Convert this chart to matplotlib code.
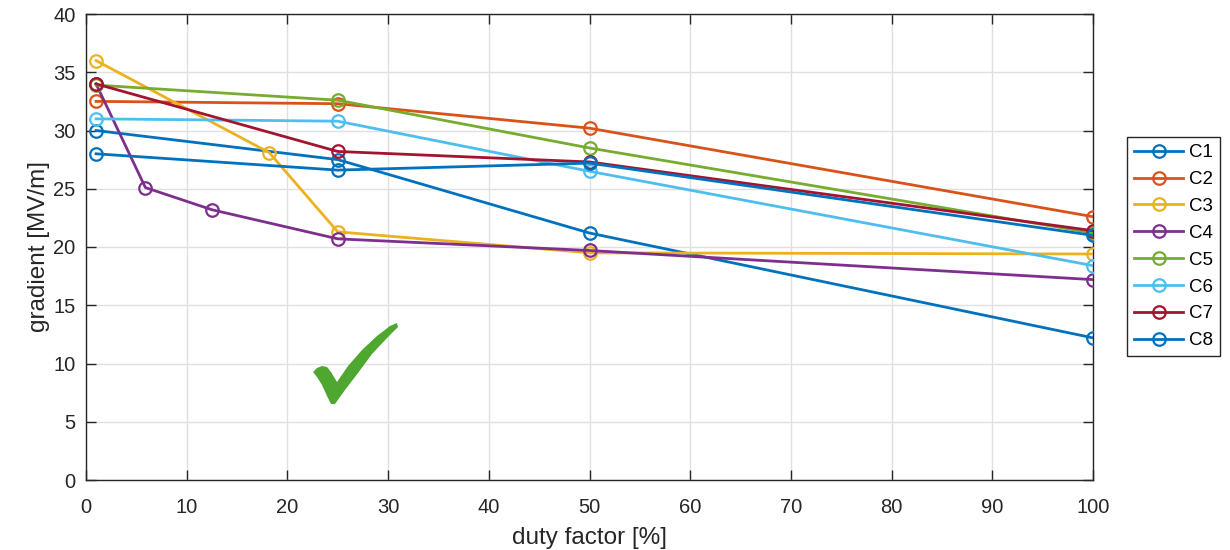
import matplotlib
matplotlib.use("Agg")
import matplotlib.pyplot as plt
from matplotlib.patches import Polygon

plt.rcParams['font.family'] = ['Liberation Sans', 'DejaVu Sans']

# duty factor [%] and accelerating gradient [MV/m] per cavity
c1_x = [1, 25, 50, 100]
c1_y = [30.0, 27.5, 21.2, 12.2]
c2_x = [1, 25, 50, 100]
c2_y = [32.5, 32.3, 30.2, 22.6]
c3_x = [1, 18.2, 25, 50, 100]
c3_y = [36.0, 28.1, 21.3, 19.5, 19.4]
c4_x = [1, 5.9, 12.5, 25, 50, 100]
c4_y = [34.0, 25.1, 23.2, 20.7, 19.7, 17.2]
c5_x = [1, 25, 50, 100]
c5_y = [33.9, 32.6, 28.5, 21.2]
c6_x = [1, 25, 50, 100]
c6_y = [31.0, 30.8, 26.5, 18.4]
c7_x = [1, 25, 50, 100]
c7_y = [34.0, 28.2, 27.3, 21.4]
c8_x = [1, 25, 50, 100]
c8_y = [28.0, 26.6, 27.2, 21.0]

names = ["C1", "C2", "C3", "C4", "C5", "C6", "C7", "C8"]
xs = [c1_x, c2_x, c3_x, c4_x, c5_x, c6_x, c7_x, c8_x]
ys = [c1_y, c2_y, c3_y, c4_y, c5_y, c6_y, c7_y, c8_y]

x_ticks = list(range(0, 101, 10))
y_ticks = list(range(0, 41, 5))

colors = ["#0072BD", "#D95319", "#EDB120", "#7E2F8E",
          "#77AC30", "#4DBEEE", "#A2142F"]
ink = '#262626'

W, H = 1230, 550
fig = plt.figure(figsize=(W / 100, H / 100), dpi=100)
left, right, top, bottom = 86, 1093, 14, 480
ax = fig.add_axes([left / W, 1 - bottom / H, (right - left) / W, (bottom - top) / H])

for i, (name, x, y) in enumerate(zip(names, xs, ys)):
    ax.plot(x, y, color=colors[i % len(colors)], lw=2.0, marker='o',
            ms=9, mfc='none', mew=1.6, label=name, zorder=3)

ax.set_xlim(0, 100)
ax.set_ylim(0, 40)
ax.set_xticks(x_ticks)
ax.set_yticks(y_ticks)
ax.grid(True, color='#E0E0E0', lw=1.0, zorder=0)
ax.set_axisbelow(True)
ax.tick_params(direction='in', top=True, right=True, length=7, width=1.0,
               colors=ink, labelsize=14.5, labelcolor=ink)
ax.tick_params(axis='x', pad=13)
ax.tick_params(axis='y', pad=7.5)
for s in ax.spines.values():
    s.set_color(ink)
    s.set_linewidth(1.0)

ax.set_xlabel("duty factor [%]", fontsize=17.5, color=ink, labelpad=7.5)
ax.set_ylabel("gradient [MV/m]", fontsize=17.5, color=ink, labelpad=2)

leg = fig.legend(loc='upper left', bbox_to_anchor=(1127 / W, 1 - 137 / H),
                 bbox_transform=fig.transFigure, fontsize=13.5, fancybox=False,
                 edgecolor=ink, framealpha=1, handlelength=2.6,
                 borderpad=0.38, labelspacing=0.52, handletextpad=0.32,
                 borderaxespad=0)
leg.get_frame().set_linewidth(1.0)

# green check mark, outline given in pixel positions of the figure
check_px = [(313, 372), (317, 368), (322, 366), (327, 367), (331, 372),
            (337, 382), (348, 366), (362, 350), (377, 336), (390, 326),
            (397, 323), (398, 327), (388, 337), (372, 354), (358, 373),
            (345, 390), (335, 404), (331, 404), (327, 396), (322, 385),
            (317, 377)]
check = [((px - left) / (right - left), (bottom - py) / (bottom - top))
         for px, py in check_px]
ax.add_patch(Polygon(check, closed=True, transform=ax.transAxes,
                     facecolor='#4EA72E', edgecolor='none', zorder=4))

fig.savefig("out.png", dpi=100)
